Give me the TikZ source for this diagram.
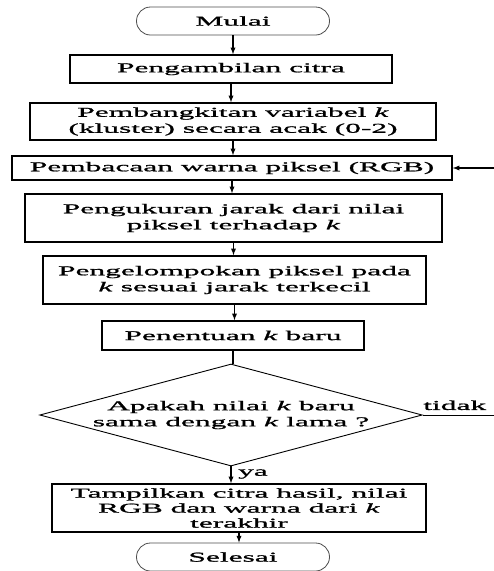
\documentclass[tikz,border=0pt]{standalone}
\usepackage{fontspec}
\setmainfont{Liberation Serif}[FakeStretch=2.33,FakeBold=1.2]
\usetikzlibrary{positioning,arrows,shapes}

\begin{document}
\begin{tikzpicture}[x=1pt,y=-1pt,
  proses/.style={draw,line width=1.4pt,inner sep=0pt,align=center},
  terminal/.style={draw,line width=0.8pt,draw=black!70,rounded rectangle,minimum width=193pt,minimum height=28pt,inner sep=0pt},
  keputusan/.style={draw,line width=0.9pt,diamond,aspect=3.75,inner sep=0pt,align=center,minimum width=382pt,minimum height=102pt},
  panah/.style={-latex,line width=1.3pt}]
\useasboundingbox (0,0) rectangle (494,571);
\fontsize{13.5}{16}\selectfont

% start and the steps
\node[terminal] (mulai) at (233,21) {Mulai};
\node[proses,minimum width=322pt,minimum height=28pt] (ambil) at (231,69) {Pengambilan citra};
\node[proses,minimum width=406pt,minimum height=37pt] (bangkit) at (233,121.5) {Pembangkitan variabel \textit{k}\\(kluster) secara acak (0-2)};
\node[proses,minimum width=440pt,minimum height=24pt] (baca) at (232,168) {Pembacaan warna piksel (RGB)};
\node[proses,minimum width=417pt,minimum height=48pt] (ukur) at (233.5,218) {Pengukuran jarak dari nilai\\piksel terhadap \textit{k}};
\node[proses,minimum width=383pt,minimum height=48pt] (kelompok) at (234.5,280) {Pengelompokan piksel pada\\\textit{k} sesuai jarak terkecil};
\node[proses,minimum width=262pt,minimum height=29pt] (tentu) at (233,335.5) {Penentuan \textit{k} baru};

% decision
\node[keputusan] (cek) at (231,415) {Apakah nilai \textit{k} baru\\sama dengan \textit{k} lama ?};
\node[proses,minimum width=374pt,minimum height=48pt,font=\fontsize{13.5}{15}\selectfont] (tampil) at (239,508) {Tampilkan citra hasil, nilai\\RGB dan warna dari \textit{k}\\terakhir};
\node[terminal] (selesai) at (233,557) {Selesai};

%arrows down the chart:
\foreach \a/\b in {mulai/ambil,ambil/bangkit,bangkit/baca,baca/ukur,ukur/kelompok,kelompok/tentu,tampil/selesai} {
  \draw[panah] (\a.south) -- (\a.south |- \b.north);
}
\draw[line width=1.3pt] (tentu.south) -- (tentu.south |- cek.north);
\draw[panah] (cek.south) -- (cek.south |- tampil.north) node[pos=0.45,right=2pt] (ya) {ya};

% loop back (cut off at the right edge)
\coordinate (kanan1) at (494,415);
\coordinate (kanan2) at (494,168);
\draw[line width=0.9pt] (cek.east) -- (kanan1) node[pos=0.45,above=0pt] (tidak) {tidak};
\draw[panah] (kanan2) -- (baca.east);
\end{tikzpicture}
\end{document}
